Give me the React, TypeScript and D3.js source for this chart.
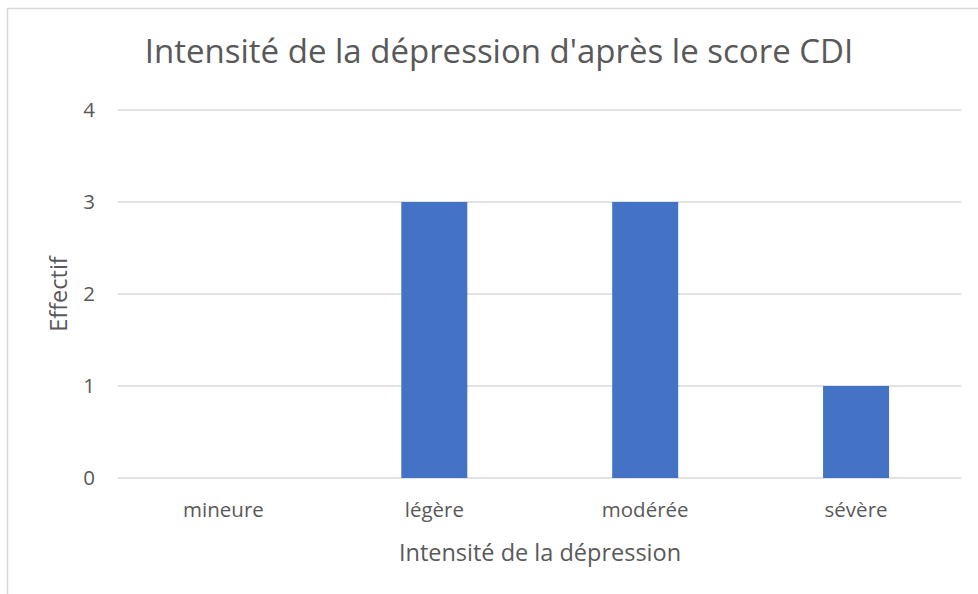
import React, { useRef, useEffect } from 'react'
import * as d3 from 'd3'

// chart data
const categories = ['mineure', 'légère', 'modérée', 'sévère']
const effectifs = [0, 3, 3, 1]
const yTicks = [0, 1, 2, 3, 4]

const title = "Intensité de la dépression d'après le score CDI"
const xTitle = 'Intensité de la dépression'
const yTitle = 'Effectif'

const W = 978
const H = 594

const App = () => {
  const svgRef = useRef<SVGSVGElement>(null)

  useEffect(() => {
    const svg = d3.select(svgRef.current)
    svg.selectAll('*').remove()

    const font = "'Open Sans', sans-serif"
    const textColor = '#595959'

    // plot area
    const left = 118
    const right = 961.5
    const top = 110
    const bottom = 478

    // chart border (top + left only visible)
    svg.append('rect')
      .attr('x', 7.5)
      .attr('y', 8.5)
      .attr('width', W + 10)
      .attr('height', H + 10)
      .attr('fill', 'white')
      .attr('stroke', '#d9d9d9')
      .attr('stroke-width', 1.5)

    const x = d3.scaleBand()
      .domain(categories)
      .range([left, right])
      .padding(0)

    const y = d3.scaleLinear()
      .domain([0, 4])
      .range([bottom, top])

    const barW = x.bandwidth() * 0.313

    // gridlines
    svg.append('g')
      .selectAll('line')
      .data(yTicks)
      .join('line')
        .attr('x1', left)
        .attr('x2', right)
        .attr('y1', d => y(d))
        .attr('y2', d => y(d))
        .attr('stroke', '#d9d9d9')
        .attr('stroke-width', 1.5)

    // y tick labels
    svg.append('g')
      .selectAll('text')
      .data(yTicks)
      .join('text')
        .attr('x', 95)
        .attr('y', d => y(d))
        .attr('dy', '0.36em')
        .attr('text-anchor', 'end')
        .attr('font-family', font)
        .attr('font-size', 20.5)
        .attr('fill', textColor)
        .text(d => d)

    // bars
    svg.append('g')
      .selectAll('rect')
      .data(effectifs)
      .join('rect')
        .attr('x', (d, i) => (x(categories[i]) as number) + x.bandwidth() / 2 - barW / 2)
        .attr('y', d => y(d))
        .attr('width', barW)
        .attr('height', d => bottom - y(d))
        .attr('fill', '#4472C4')

    // x labels
    svg.append('g')
      .selectAll('text')
      .data(categories)
      .join('text')
        .attr('x', d => (x(d) as number) + x.bandwidth() / 2)
        .attr('y', 517)
        .attr('text-anchor', 'middle')
        .attr('font-family', font)
        .attr('font-size', 20.5)
        .attr('fill', textColor)
        .text(d => d)

    // title
    svg.append('text')
      .attr('x', 499)
      .attr('y', 63)
      .attr('text-anchor', 'middle')
      .attr('font-family', font)
      .attr('font-size', 33)
      .attr('fill', textColor)
      .text(title)

    // axis titles
    svg.append('text')
      .attr('x', 540)
      .attr('y', 561)
      .attr('text-anchor', 'middle')
      .attr('font-family', font)
      .attr('font-size', 23.5)
      .attr('fill', textColor)
      .text(xTitle)

    svg.append('text')
      .attr('transform', 'translate(67,294) rotate(-90)')
      .attr('text-anchor', 'middle')
      .attr('font-family', font)
      .attr('font-size', 23.5)
      .attr('fill', textColor)
      .text(yTitle)
  }, [])

  return (
    <div style={{ position: 'fixed', left: 0, top: 0 }}>
      <svg ref={svgRef} width={W} height={H} style={{ display: 'block', background: 'white' }}></svg>
    </div>
  )
}

export default App
